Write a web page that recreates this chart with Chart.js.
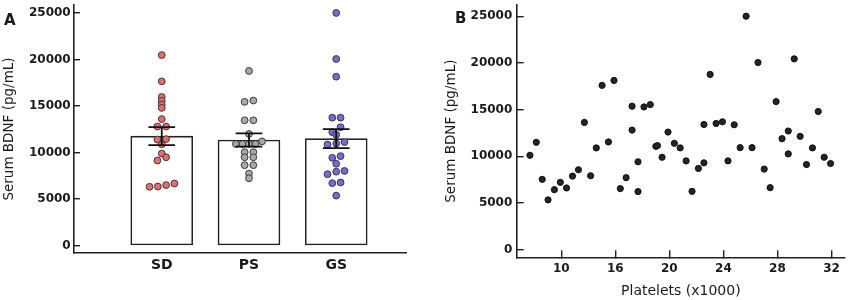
<!DOCTYPE html>
<html>
<head>
<meta charset="utf-8">
<script src="https://cdn.jsdelivr.net/npm/chart.js@4"></script>
<style>
    html, body { margin: 0; padding: 0; background: #fff; }
    #wrap { position: relative; width: 850px; height: 300px; overflow: hidden; }
    .panel { position: absolute; top: 0; width: 425px; height: 300px; }
    .tag { position: absolute; font: bold 15px 'DejaVu Sans', sans-serif; color: #1a1a1a; line-height: 15px; }
</style>
</head>
<body>
<div id="wrap">
    <div class="panel" style="left:0"><canvas id="bdnf-group-chart"></canvas></div>
    <div class="panel" style="left:425px"><canvas id="bdnf-platelet-chart"></canvas></div>
    <div class="tag" style="left:4px;top:13px">A</div>
    <div class="tag" style="left:455px;top:11px">B</div>
</div>
<script>
// Panel A: groups
const groups = ['SD', 'PS', 'GS'];
const groupMeans = [11770, 11350, 11500];
const groupSem = [970, 705, 1020];

// individual subjects, value + horizontal jitter (in category units)
const sdValues = [20470, 17650, 15980, 15550, 15150, 14800, 13600, 12800, 12800, 11400, 11450, 10900, 9900, 9500, 9150, 6330, 6360, 6510, 6680];
const sdJitter = [0, 0, 0, 0, 0, 0, 0, -0.05, 0.05, -0.05, 0.05, 0, 0, 0.05, -0.05, -0.14, -0.045, 0.05, 0.145];
const psValues = [18770, 15450, 15590, 13470, 13470, 12000, 10920, 10920, 10920, 10920, 11200, 10050, 10050, 9500, 9500, 8650, 8650, 7750, 7250];
const psJitter = [0, -0.05, 0.05, -0.05, 0.05, 0, -0.15, -0.075, 0, 0.075, 0.15, -0.05, 0.05, -0.05, 0.05, -0.05, 0.05, 0, 0];
const gsValues = [25000, 20050, 18150, 13750, 13750, 12725, 12195, 11920, 10860, 10965, 11135, 9440, 9620, 8800, 7680, 7950, 8030, 6720, 6790, 5380];
const gsJitter = [0, 0, 0, -0.045, 0.05, 0.05, -0.045, 0, -0.1, 0, 0.095, -0.045, 0.05, 0, -0.1, 0, 0.095, -0.045, 0.05, 0];

const bdnfTicks = [0, 5000, 10000, 15000, 20000, 25000];

// Panel B: platelets vs BDNF
const plateletX = [9.68, 10.15, 10.59, 11.02, 11.49, 11.93, 12.39, 12.83, 13.27, 13.71, 14.17, 14.59, 15.02, 15.49, 15.90, 16.37, 16.80, 17.24, 17.24, 17.68, 17.68, 18.12, 18.59, 19.00, 19.12, 19.46, 19.90, 20.37, 20.80, 21.24, 21.68, 22.15, 22.56, 22.56, 23.02, 23.46, 23.93, 24.34, 24.80, 25.24, 25.68, 26.12, 26.56, 27.02, 27.46, 27.90, 28.34, 28.80, 28.80, 29.24, 29.68, 30.15, 30.59, 31.02, 31.46, 31.93];
const bdnfY = [10100, 11490, 7520, 5320, 6420, 7200, 6600, 7870, 8550, 13620, 7910, 10890, 17590, 11530, 18120, 6530, 7700, 15360, 12800, 9400, 6210, 15280, 15530, 11060, 11140, 9890, 12590, 11380, 10890, 9500, 6240, 8690, 9290, 13400, 18760, 13510, 13690, 9500, 13370, 10920, 25000, 10920, 20040, 8620, 6630, 15850, 11880, 12700, 10250, 20430, 12130, 9110, 10890, 14790, 9890, 9220];
const plateletTickValues = [12, 16, 20, 24, 28, 32];
const plateletTickLabels = ['10', '16', '20', '24', '28', '32'];

Chart.defaults.font.family = "'DejaVu Sans', sans-serif";
Chart.defaults.color = '#1a1a1a';
Chart.defaults.animation = false;

document.addEventListener('DOMContentLoaded', function() {
    createGroupChart();
    createPlateletChart();
});

const AXIS = '#222';

function fixSize(prop, size) {
    return function(scale) {
        scale[prop] = size;
        scale.paddingTop = 0;
        scale.paddingBottom = 0;
        scale.paddingLeft = 0;
        scale.paddingRight = 0;
    };
}

// plain numbers, no thousands separator
function plain(value) {
    return String(value);
}

/**
 * Bar + dots + SEM chart (panel A)
 */
function createGroupChart() {
    const canvas = document.getElementById('bdnf-group-chart');
    if (!canvas) return;

    const toPoints = (vals, jit, i) => vals.map((v, k) => ({ x: i + jit[k], y: v }));

    // error bars: caps + stem per group, broken with nulls
    const cap = 0.153;
    const errPts = [];
    groupMeans.forEach((m, i) => {
        const hi = m + groupSem[i], lo = m - groupSem[i];
        errPts.push({ x: i - cap, y: hi }, { x: i + cap, y: hi }, { x: i + cap, y: null });
        errPts.push({ x: i, y: hi }, { x: i, y: lo }, { x: i, y: null });
        errPts.push({ x: i - cap, y: lo }, { x: i + cap, y: lo }, { x: i + cap, y: null });
    });

    const dot = (fill) => ({
        type: 'scatter',
        backgroundColor: fill,
        borderColor: '#3a3a3a',
        borderWidth: 1,
        pointRadius: 3.4,
        order: 2
    });

    new Chart(canvas, {
        data: {
            datasets: [
                {
                    type: 'bar',
                    data: groupMeans.map((m, i) => ({ x: i, y: m })),
                    backgroundColor: '#ffffff',
                    borderColor: AXIS,
                    borderWidth: 1.6,
                    borderSkipped: false,
                    barThickness: 62,
                    order: 3
                },
                Object.assign(dot('#e86a6c'), { data: toPoints(sdValues, sdJitter, 0) }),
                Object.assign(dot('#a8a8a8'), { data: toPoints(psValues, psJitter, 1) }),
                Object.assign(dot('#7868dc'), { data: toPoints(gsValues, gsJitter, 2) }),
                {
                    type: 'line',
                    data: errPts,
                    borderColor: '#111',
                    borderWidth: 1.8,
                    pointRadius: 0,
                    spanGaps: false,
                    order: 1
                }
            ]
        },
        options: {
            responsive: true,
            maintainAspectRatio: false,
            layout: { padding: { top: 2, right: 19, left: 0, bottom: 0 } },
            plugins: { legend: { display: false }, tooltip: { enabled: false } },
            scales: {
                x: {
                    type: 'linear',
                    offset: false,
                    min: -1.006,
                    max: 2.8,
                    afterBuildTicks: function(scale) {
                        scale.ticks = groups.map((g, i) => ({ value: i }));
                    },
                    afterFit: fixSize('height', 47),
                    grid: { display: false, drawTicks: false },
                    border: { display: true, color: AXIS, width: 1.6 },
                    ticks: {
                        padding: 4,
                        font: { size: 14, weight: 'bold' },
                        callback: function(value) { return groups[value]; }
                    }
                },
                y: {
                    min: -780,
                    max: 25850,
                    afterBuildTicks: function(scale) {
                        scale.ticks = bdnfTicks.map(v => ({ value: v }));
                    },
                    afterFit: fixSize('width', 74),
                    grid: { drawOnChartArea: false, drawTicks: true, tickLength: -6, color: AXIS, lineWidth: 1.4 },
                    border: { display: true, color: AXIS, width: 1.6 },
                    ticks: {
                        padding: 9.3,
                        font: { size: 12, weight: 'bold' },
                        callback: plain
                    },
                    title: {
                        display: true,
                        text: 'Serum BDNF (pg/mL)',
                        font: { size: 13.5, lineHeight: 1 },
                        padding: { top: 2.5, bottom: 0 }
                    }
                }
            }
        }
    });
}

/**
 * Platelets vs serum BDNF scatter (panel B)
 */
function createPlateletChart() {
    const canvas = document.getElementById('bdnf-platelet-chart');
    if (!canvas) return;

    new Chart(canvas, {
        type: 'scatter',
        data: {
            datasets: [{
                data: plateletX.map((x, i) => ({ x: x, y: bdnfY[i] })),
                backgroundColor: '#232323',
                borderColor: '#111',
                borderWidth: 1,
                pointRadius: 3.1
            }]
        },
        options: {
            responsive: true,
            maintainAspectRatio: false,
            layout: { padding: { top: 3, right: 2, left: 0, bottom: 0 } },
            plugins: { legend: { display: false }, tooltip: { enabled: false } },
            scales: {
                x: {
                    type: 'linear',
                    min: 8.7,
                    max: 33.0,
                    afterBuildTicks: function(scale) {
                        scale.ticks = plateletTickValues.map(v => ({ value: v }));
                    },
                    afterFit: fixSize('height', 42.7),
                    grid: { drawOnChartArea: false, drawTicks: true, tickLength: -7, color: AXIS, lineWidth: 1.4 },
                    border: { display: true, color: AXIS, width: 1.6 },
                    ticks: {
                        padding: 11.5,
                        maxRotation: 0,
                        font: { size: 12, weight: 'bold' },
                        callback: function(value) {
                            return plateletTickLabels[plateletTickValues.indexOf(value)];
                        }
                    },
                    title: {
                        display: true,
                        text: 'Platelets (x1000)',
                        font: { size: 14, lineHeight: 1 },
                        padding: { top: 2, bottom: 2 }
                    }
                },
                y: {
                    min: -829,
                    max: 26200,
                    afterBuildTicks: function(scale) {
                        scale.ticks = bdnfTicks.map(v => ({ value: v }));
                    },
                    afterFit: fixSize('width', 91.7),
                    grid: { drawOnChartArea: false, drawTicks: true, tickLength: -7, color: AXIS, lineWidth: 1.4 },
                    border: { display: true, color: AXIS, width: 1.6 },
                    ticks: {
                        padding: 11.4,
                        font: { size: 12, weight: 'bold' },
                        callback: plain
                    },
                    title: {
                        display: true,
                        text: 'Serum BDNF (pg/mL)',
                        font: { size: 13.5, lineHeight: 1 },
                        padding: { top: 20, bottom: 0 }
                    }
                }
            }
        }
    });
}
</script>
</body>
</html>
